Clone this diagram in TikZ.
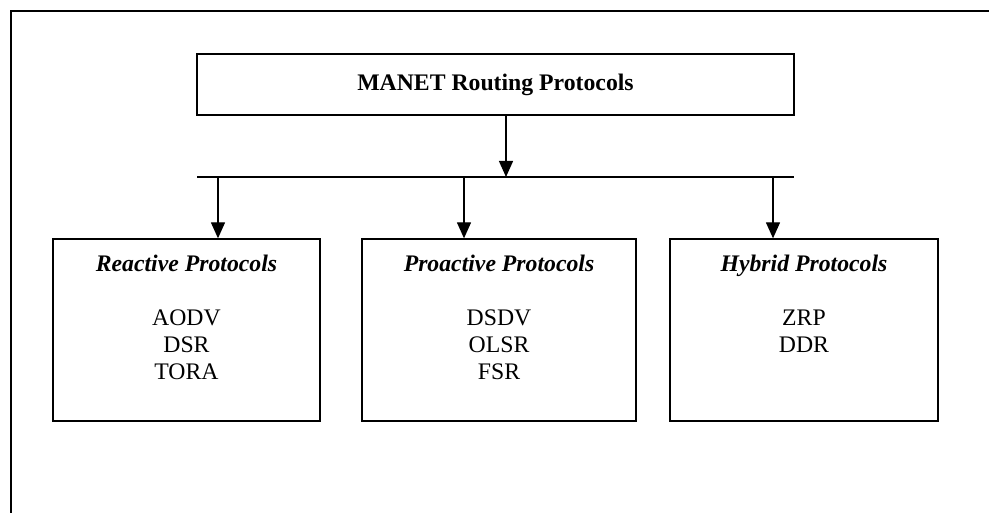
\documentclass[tikz,border=0pt]{standalone}
\usepackage{fontspec}
\setmainfont{Liberation Serif}
\usetikzlibrary{positioning,arrows.meta}

\begin{document}
\begin{tikzpicture}[x=0.75pt,y=0.75pt,yscale=-1,xscale=1,
    every node/.style={font=\fontsize{17.8}{20.25}\selectfont},
    box/.style={draw,line width=1pt,inner sep=0pt,minimum height=136.5pt},
    arr/.style={line width=1pt,-{Triangle[length=12pt,width=10.5pt]}},
    txt/.style={inner sep=0pt,align=center}]
    \useasboundingbox (0,0) rectangle (989,513);

    %Straight Lines: frame
    \draw [line width=1pt] (989,11) -- (11,11) -- (11,513) ;

    %Shape: Rectangle
    \node [draw,line width=1pt,inner sep=0pt,minimum width=447.75pt,minimum height=45.75pt] (manet) at (495.5,84.5) {\textbf{MANET Routing Protocols}};

    %Straight Lines: bus
    \coordinate (busL) at (197,177);
    \coordinate (busR) at (794,177);
    \coordinate (busIn) at (506,177);
    \coordinate (d1) at (218,177);
    \coordinate (d2) at (464,177);
    \coordinate (d3) at (773,177);
    \draw [line width=1pt] (busL) -- (busR) ;
    \draw [arr] (busIn |- manet.south) -- (busIn) ;

    %Shape: Rectangle
    \node [box,minimum width=200.25pt] (reactive) at (186.5,330) {};
    \node [box,minimum width=205.5pt] (proactive) at (499,330) {};
    \node [box,minimum width=201pt] (hybrid) at (804,330) {};

    \draw [arr] (d1) -- (d1 |- reactive.north) ;
    \draw [arr] (d2) -- (d2 |- proactive.north) ;
    \draw [arr] (d3) -- (d3 |- hybrid.north) ;

    % Text Node
    \node [txt,below=12.3pt of reactive.north] (reactiveTxt) {\textbf{\textit{Reactive Protocols}}\\[20.25pt] AODV\\DSR\\TORA};
    % Text Node
    \node [txt,below=12.3pt of proactive.north] (proactiveTxt) {\textbf{\textit{Proactive Protocols}}\\[20.25pt] DSDV\\OLSR\\FSR};
    % Text Node
    \node [txt,below=12.3pt of hybrid.north] (hybridTxt) {\textbf{\textit{Hybrid Protocols}}\\[20.25pt] ZRP\\DDR};

\end{tikzpicture}
\end{document}
